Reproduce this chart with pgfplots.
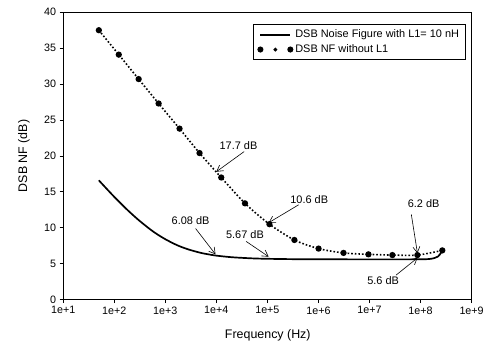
\documentclass[border=0pt]{standalone}
\usepackage{fontspec}
\setmainfont{Liberation Sans}
\usepackage{pgfplots}
\pgfplotsset{compat=1.18}
\usetikzlibrary{arrows.meta}
\begin{document}
\begin{tikzpicture}[font=\fontsize{10.8}{12}\selectfont,
  ann/.style={-{Straight Barb[length=6bp,width=7bp,line width=0.6pt]}, line width=0.6pt, black}]
\begin{axis}[name=ax,
  scale only axis, width=409.4bp, height=288bp,
  xmode=log, log basis x=10, xmin=10, xmax=1e9, ymin=0, ymax=40,
  xtick={1e1,1e2,1e3,1e4,1e5,1e6,1e7,1e8,1e9},
  xticklabels={1e+1,1e+2,1e+3,1e+4,1e+5,1e+6,1e+7,1e+8,1e+9},
  xminorticks=false,
  ytick={0,5,...,40},
  tick align=outside, xtick pos=left, ytick pos=left,
  major tick length=3.5bp,
  tick style={black, line width=0.7pt},
  axis line style={line width=0.8pt, black},
  /pgf/number format/assume math mode=true,
  xlabel={Frequency (Hz)}, ylabel={DSB NF (dB)},
  label style={font=\fontsize{12.5}{14}\selectfont},
  x label style={at={(axis description cs:0.501,-0.125)},anchor=center},
  y label style={at={(axis description cs:-0.096,0.5)},anchor=center},
  legend style={at={(rel axis cs:0.985,0.959)}, anchor=north east, draw=black, line width=0.8pt,
     font=\fontsize{11}{12}\selectfont, inner xsep=4bp, inner ysep=3.5bp, row sep=1.5bp},
  legend cell align=left,
]
\addplot[black, line width=1.7pt, smooth,
  legend image code/.code={\draw[black, solid, line width=2pt] (0bp,0bp) -- (30bp,0bp);}]
 coordinates {(50,16.6)(70,15.48)(100,14.31)(150,13.05)(200,12.2)(300,11.08)(500,9.81)(700,9.08)
 (1000,8.41)(1500,7.76)(2000,7.37)(3000,6.93)(5000,6.50)(7000,6.30)(1e4,6.12)(2e4,5.90)(5e4,5.74)
 (1e5,5.68)(3e5,5.63)(1e6,5.61)(1e7,5.6)(5e7,5.6)(1e8,5.61)(1.5e8,5.65)(1.9e8,5.8)(2.2e8,6.0)(2.4e8,6.3)(2.55e8,6.6)};
\addlegendentry{DSB Noise Figure with L1= 10 nH}
\addplot[black, line width=1.6pt, dash pattern=on 1.6pt off 2pt, smooth, mark=*, mark size=2.3bp,
  mark options={solid, fill=black},
  legend image code/.code={\fill[black, solid] (0bp,0bp) circle (2.2bp); \fill[black, solid] (15bp,0bp) circle (1bp); \fill[black, solid] (30bp,0bp) circle (2.2bp);}]
 coordinates {(50,37.5)(123,34.1)(301,30.7)(741,27.3)(1905,23.8)(4690,20.4)(12470,17.0)(36400,13.4)
 (109600,10.5)(338000,8.3)(1.007e6,7.1)(3.1e6,6.5)(9.55e6,6.3)(2.81e7,6.2)(8.67e7,6.2)(2.67e8,6.85)};
\addlegendentry{DSB NF without L1}
\begin{scope}[font=\fontsize{11}{12}\selectfont]
\node at (axis cs:2.72e4,21.4) {17.7 dB};
\draw[ann] (axis cs:3.5e4,20.6) -- (axis cs:1e4,17.8);
\node at (axis cs:6.6e5,13.9) {10.6 dB};
\draw[ann] (axis cs:4.1e5,13.2) -- (axis cs:1.06e5,10.7);
\node at (axis cs:1.15e8,13.4) {6.2 dB};
\draw[ann] (axis cs:6.6e7,11.85) -- (axis cs:8.7e7,6.45);
\node at (axis cs:1.85e7,2.7) {5.6 dB};
\draw[ann] (axis cs:3.3e7,3.4) -- (axis cs:8.7e7,5.8);
\node at (axis cs:3130,11.0) {6.08 dB};
\draw[ann] (axis cs:3920,9.9) -- (axis cs:9640,6.3);
\node at (axis cs:3.64e4,9.07) {5.67 dB};
\draw[ann] (axis cs:3.84e4,8.1) -- (axis cs:1.06e5,5.97);
\end{scope}
\end{axis}
\path ([shift={(-63.3bp,-50bp)}]ax.south west) ([shift={(14.3bp,12.3bp)}]ax.north east);
\end{tikzpicture}
\end{document}
